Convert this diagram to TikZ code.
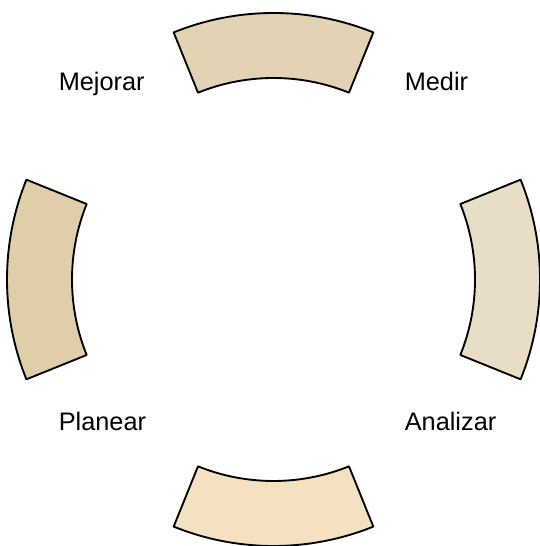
\documentclass[tikz,border=0pt]{standalone}
\usepackage{fontspec}
\setmainfont{Liberation Sans}
\usetikzlibrary{calc}
\definecolor{topfill}{RGB}{226,211,181}
\definecolor{rightfill}{RGB}{232,221,198}
\definecolor{bottomfill}{RGB}{244,225,193}
\definecolor{leftfill}{RGB}{224,206,171}
\begin{document}
\begin{tikzpicture}[
    x=0.75pt, y=0.75pt,
    sector/.style={draw=black, line width=1.4pt, line join=round},
    label/.style={anchor=base west, inner sep=0pt, font=\fontsize{19}{23}\selectfont}
]
\useasboundingbox (0,0) rectangle (539,546);
\coordinate (c) at (273.5,266.5);

% Sectors
\draw[sector, fill=topfill] ($(c)+(68:266.5)$) arc[start angle=68, end angle=112, radius=266.5]
    -- ($(c)+(112:201.5)$) arc[start angle=112, end angle=68, radius=201.5] -- cycle;
\draw[sector, fill=rightfill] ($(c)+(-22:266.5)$) arc[start angle=-22, end angle=22, radius=266.5]
    -- ($(c)+(22:201.5)$) arc[start angle=22, end angle=-22, radius=201.5] -- cycle;
\draw[sector, fill=bottomfill] ($(c)+(248:266.5)$) arc[start angle=248, end angle=292, radius=266.5]
    -- ($(c)+(292:201.5)$) arc[start angle=292, end angle=248, radius=201.5] -- cycle;
\draw[sector, fill=leftfill] ($(c)+(158:266.5)$) arc[start angle=158, end angle=202, radius=266.5]
    -- ($(c)+(202:201.5)$) arc[start angle=202, end angle=158, radius=201.5] -- cycle;

% Labels
\node[label] (mejorar) at (58.5,455) {Mejorar};
\node[label] (medir) at (404.5,455) {Medir};
\node[label] (planear) at (58.5,115) {Planear};
\node[label] (analizar) at (404.5,115) {Analizar};
\end{tikzpicture}
\end{document}
